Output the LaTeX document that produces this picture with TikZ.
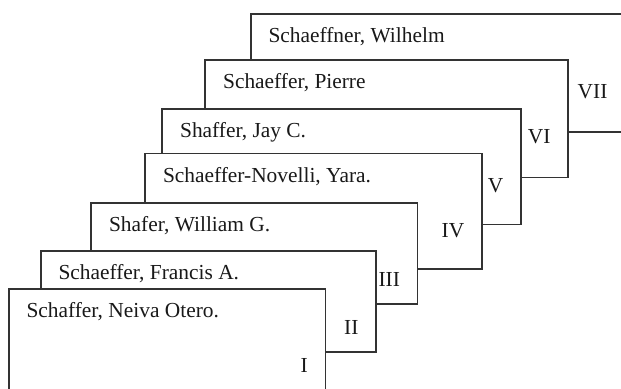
\documentclass[tikz,border=0pt]{standalone}
\usepackage{fontspec}
\setmainfont{Liberation Serif}
\begin{document}
\begin{tikzpicture}[x=0.5pt,y=-0.5pt,line join=miter]
  \fontsize{10.7}{13}\selectfont
  \tikzset{card/.style={draw=black!80,fill=white,line width=0.9pt},
    cardname/.style={anchor=base west,inner sep=0pt,text=black!90},
    cardnum/.style={anchor=base east,inner sep=0pt,text=black!90}}
  \useasboundingbox (0,0) rectangle (621,389);
  \clip (0,0) rectangle (621,389);
  % cards from back to front: left/top/right/bottom/number/name
  \foreach \l/\t/\r/\b/\i/\who in {
      250.7/14.3/625/131.7/VII/{Schaeffner, Wilhelm},
      205.3/59.8/568/177.5/VI/{Schaeffer, Pierre},
      162.3/109/521/224.5/V/{Shaffer, Jay C.},
      145.2/153.6/481.9/269.3/IV/{Schaeffer-Novelli, Yara.},
      91.3/202.7/417.5/304.3/III/{Shafer, William G.},
      40.7/251/376/352.3/II/{Schaeffer, Francis A.},
      8.7/288.7/325.4/400/I/{Schaffer, Neiva Otero.}} {
      \draw [card] (\l,\t) rectangle (\r,\b);
      \node [cardname] (name\i) at (\l+17.4,\t+28.5) {\who};
      \node [cardnum] (num\i) at (\r-17.2,\t+84) {\i};
    }
\end{tikzpicture}
\end{document}
